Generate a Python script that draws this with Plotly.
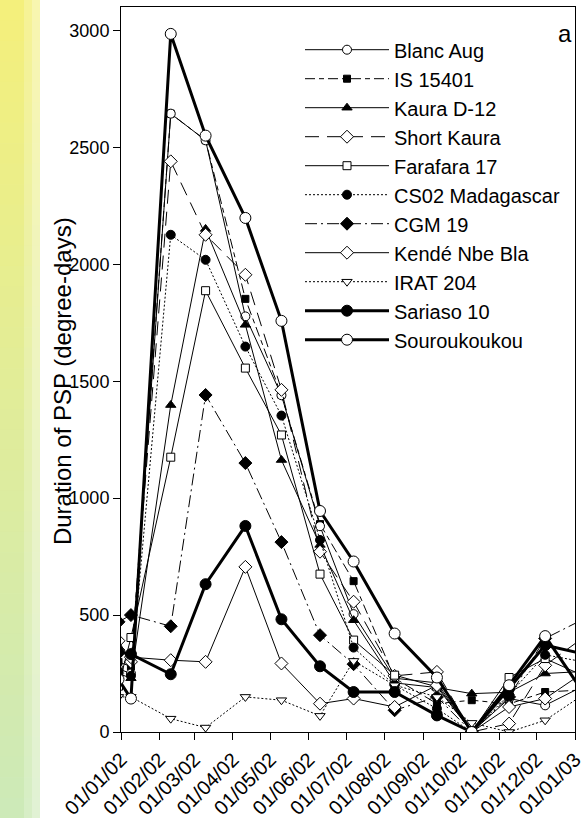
import plotly.graph_objects as go

# ---------------- data ----------------
pre_date = "2001-12-30"
dates = ["2002-01-09", "2002-02-10", "2002-03-10", "2002-04-11", "2002-05-10", "2002-06-10",
         "2002-07-07", "2002-08-09", "2002-09-12", "2002-10-10", "2002-11-09", "2002-12-08"]
post_date = "2003-01-08"

series_names = ["Blanc Aug", "IS 15401", "Kaura D-12", "Short Kaura", "Farafara 17",
                "CS02 Madagascar", "CGM 19", "Kendé Nbe Bla", "IRAT 204", "Sariaso 10", "Souroukoukou"]

blanc_aug      = [270, 250, 2644, 2530, 1777, 1440, 880, 504, 230, 210, 0, 143, 114, 197]
is_15401       = [300, 280, 2644, 2530, 1852, 1441, 889, 645, 230, 121, 136, 120, 171, 180]
kaura_d12      = [250, 230, 1398, 2151, 1741, 1163, 800, 478, 210, 190, 164, 170, 250, 259]
short_kaura    = [390, 300, 2440, 2126, 1955, 1463, 771, 557, 240, 257, 0, 36, 285, 405]
farafara_17    = [196, 404, 1175, 1887, 1556, 1270, 675, 393, 243, 193, 0, 233, 314, 240]
cs02_madagascar= [260, 240, 2126, 2019, 1648, 1353, 821, 361, 200, 100, 0, 160, 330, 300]
cgm_19         = [471, 500, 452, 1441, 1150, 812, 414, 290, 93, 150, 0, 150, 400, 483]
kende_nbe_bla  = [350, 320, 307, 300, 706, 293, 121, 143, 107, 200, 0, 107, 143, 255]
irat_204       = [150, 150, 57, 19, 150, 136, 69, 304, 200, 150, 39, 0, 50, 161]
sariaso_10     = [342, 333, 247, 632, 881, 482, 281, 171, 171, 71, 0, 186, 371, 334]
souroukoukou   = [225, 143, 2985, 2550, 2198, 1758, 945, 729, 421, 233, 0, 200, 410, 166]

tick_dates = ["2002-01-01", "2002-02-01", "2002-03-01", "2002-04-01", "2002-05-01", "2002-06-01",
              "2002-07-01", "2002-08-01", "2002-09-01", "2002-10-01", "2002-11-01", "2002-12-01",
              "2003-01-01"]
tick_labels = ["01/01/02", "01/02/02", "01/03/02", "01/04/02", "01/05/02", "01/06/02", "01/07/02",
               "01/08/02", "01/09/02", "01/10/02", "01/11/02", "01/12/02", "01/01/03"]
y_ticks = [0, 500, 1000, 1500, 2000, 2500, 3000]

all_values = [blanc_aug, is_15401, kaura_d12, short_kaura, farafara_17, cs02_madagascar,
              cgm_19, kende_nbe_bla, irat_204, sariaso_10, souroukoukou]

# ---------------- styles ----------------
styles = [
    dict(dash="solid", width=1, symbol="circle", msize=9, fill="white"),
    dict(dash="10px,4px,5px,4px", width=1, symbol="square", msize=7, fill="black"),
    dict(dash="solid", width=1, symbol="triangle-up", msize=9, fill="black"),
    dict(dash="14px,8px", width=1, symbol="diamond", msize=10, fill="white"),
    dict(dash="solid", width=1, symbol="square", msize=8, fill="white"),
    dict(dash="2px,2px", width=1, symbol="circle", msize=9, fill="black"),
    dict(dash="12px,4px,2px,4px", width=1, symbol="diamond", msize=10, fill="black"),
    dict(dash="solid", width=1, symbol="diamond", msize=10, fill="white"),
    dict(dash="2px,2px", width=1, symbol="triangle-down", msize=9, fill="white"),
    dict(dash="solid", width=3, symbol="circle", msize=11, fill="black"),
    dict(dash="solid", width=3, symbol="circle", msize=11, fill="white"),
]

# drawing order (legend order kept with legendrank)
draw_order = [1, 0, 2, 3, 4, 5, 6, 7, 8, 9, 10]

FONT = "Liberation Sans, Arial, sans-serif"
x_all = [pre_date] + dates + [post_date]

fig = go.Figure()
for i in draw_order:
    name, vals, st = series_names[i], all_values[i], styles[i]
    fig.add_trace(go.Scatter(
        x=x_all, y=vals, name=name, mode="lines+markers", legendgroup=f"g{i}",
        legendrank=i + 1,
        line=dict(color="black", width=st["width"], dash=st["dash"]),
        marker=dict(symbol=st["symbol"], size=st["msize"], color=st["fill"],
                    line=dict(color="black", width=1)),
    ))

# left decorative gradient strip (yellow -> green)
pw, ph = 454.0, 725.0
n_bands = 40
top_c = (244, 240, 124)
bot_c = (205, 234, 184)
cols = 5
for b in range(n_bands):
    t = b / (n_bands - 1)
    base = [top_c[k] + (bot_c[k] - top_c[k]) * t for k in range(3)]
    for c in range(cols):
        f = 0 if c < cols - 2 else (c - (cols - 3)) / (cols - 1)
        colr = [int(base[k] + (255 - base[k]) * f * 0.8) for k in range(3)]
        x0 = (0 + c * 8 - 121) / pw
        x1 = (8 + c * 8 - 121) / pw
        y1 = 1 + 7 / ph - b * (818 / n_bands) / ph
        y0 = y1 - (818 / n_bands) / ph - 0.001
        fig.add_shape(type="rect", xref="paper", yref="paper", x0=x0, x1=x1, y0=y0, y1=y1,
                      line=dict(width=0), fillcolor=f"rgb({colr[0]},{colr[1]},{colr[2]})",
                      layer="below")

fig.add_annotation(text="a", xref="paper", yref="paper", x=(565 - 121) / pw,
                   y=1 - (33 - 7) / ph, xanchor="center", yanchor="middle",
                   showarrow=False, font=dict(family=FONT, size=24, color="black"))
fig.add_annotation(text="Duration of PSP (degree-days)", xref="paper", yref="paper",
                   x=(62 - 121) / pw, y=0.484, textangle=-90, showarrow=False,
                   xanchor="center", yanchor="middle",
                   font=dict(family=FONT, size=24, color="black"))

fig.update_layout(
    width=587, height=818,
    margin=dict(l=121, r=12, t=7, b=86),
    paper_bgcolor="white", plot_bgcolor="white",
    font=dict(family=FONT, size=20, color="black"),
    showlegend=True,
    legend=dict(x=(300 - 121) / pw, y=0.968, xanchor="left", yanchor="top",
                bgcolor="rgba(0,0,0,0)",
                font=dict(family=FONT, size=20, color="black"), itemwidth=84,
                tracegroupgap=0, traceorder="normal"),
    xaxis=dict(type="date", range=["2002-01-01", "2003-01-01"], tickvals=tick_dates,
               ticktext=tick_labels, tickangle=-45, ticks="outside", ticklen=7,
               tickcolor="black", showline=True, linecolor="black", linewidth=1,
               mirror=True, showgrid=False, zeroline=False, automargin=False,
               tickfont=dict(family=FONT, size=20)),
    yaxis=dict(range=[0, 3100], tickvals=y_ticks, ticks="outside", ticklen=7,
               tickcolor="black", showline=True, linecolor="black", linewidth=1,
               mirror=True, showgrid=False, zeroline=False, automargin=False,
               tickfont=dict(family=FONT, size=18)),
)

fig.write_html("out.html", config={"displayModeBar": False},
               post_script="document.body.style.margin='0';document.body.style.padding='0';")
